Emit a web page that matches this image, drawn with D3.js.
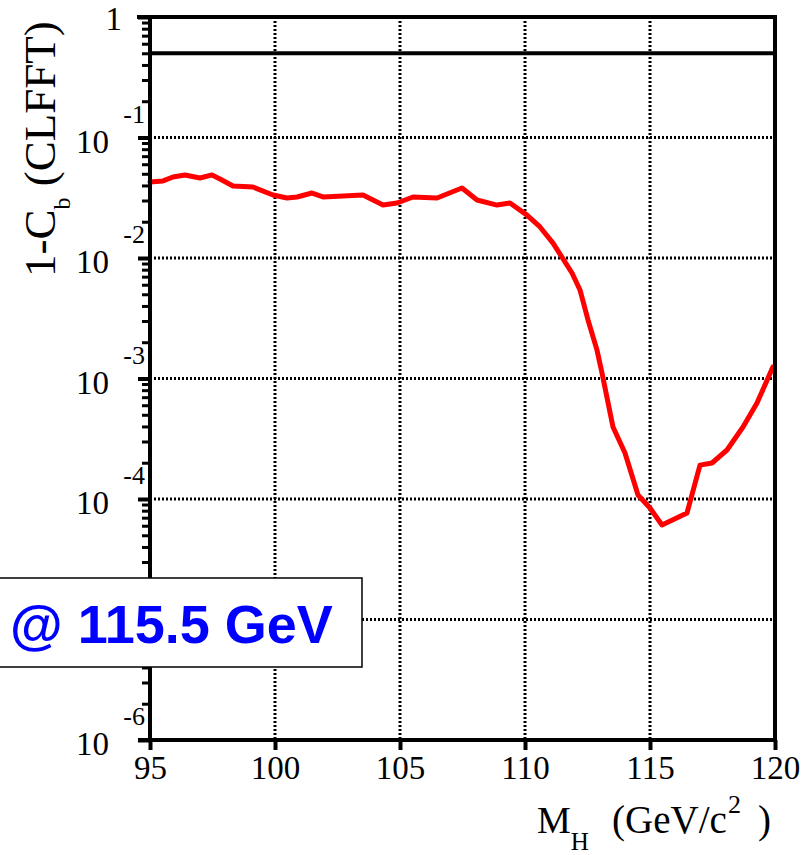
<!DOCTYPE html>
<html>
<head>
<meta charset="utf-8">
<script src="https://cdn.jsdelivr.net/npm/d3@7"></script>
<style>
  html, body { margin: 0; padding: 0; background: #fff; }
  svg { display: block; }
</style>
</head>
<body>
<svg id="chart" width="812" height="855"></svg>
<script>
// ---- data ----
const massGeV = [95.0, 95.52, 95.92, 96.4, 97.0, 97.48, 97.8, 98.32, 99.12, 99.92, 100.48, 100.88,
  101.48, 101.92, 103.52, 104.32, 104.88, 105.52, 106.48, 107.48, 108.08, 108.88, 109.4, 110.08,
  110.6, 111.12, 111.88, 112.2, 112.52, 112.88, 113.08, 113.52, 114.0, 114.52, 115.0, 115.48,
  116.48, 117.0, 117.48, 118.08, 118.72, 119.28, 119.92];
const oneMinusCb = [4.27e-2, 4.36e-2, 4.70e-2, 4.89e-2, 4.61e-2, 4.89e-2, 4.53e-2, 3.96e-2, 3.88e-2,
  3.33e-2, 3.15e-2, 3.21e-2, 3.46e-2, 3.21e-2, 3.33e-2, 2.75e-2, 2.86e-2, 3.21e-2, 3.15e-2, 3.81e-2,
  3.03e-2, 2.75e-2, 2.86e-2, 2.27e-2, 1.81e-2, 1.33e-2, 7.51e-3, 5.43e-3, 3.06e-3, 1.72e-3, 1.11e-3,
  3.96e-4, 2.41e-4, 1.08e-4, 8.42e-5, 6.08e-5, 7.65e-5, 1.91e-4, 1.99e-4, 2.55e-4, 3.96e-4, 6.26e-4,
  1.25e-3];
const xTicks = [95, 100, 105, 110, 115, 120];
const xGrid = [100, 105, 110, 115];
const yMajorExponents = [0, -1, -2, -3, -4, -5, -6];
const yLabelExponents = [0, -1, -2, -3, -4, -6]; // 10^-5 label is hidden under the box
const yGridExponents = [-1, -2, -3, -4, -5];
const referenceLevel = 0.5;
const xDomain = [95, 120];
const yDomain = [1e-6, 1];
const xTitle = { main: "M", sub: "H", rest: "(GeV/c", sup: "2", end: ")" };
const yTitle = { main: "1-C", sub: "b", rest: " (CLFFT)" };
const boxLabel = "@ 115.5 GeV";

// ---- layout ----
const L = 150, R = 775, T = 17, B = 740;
const serif = "'Liberation Serif', 'Times New Roman', 'DejaVu Serif', serif";
const svg = d3.select("#chart");

const x = d3.scaleLinear().domain(xDomain).range([L, R]);
const y = d3.scaleLog().domain(yDomain).range([B, T]);

// grid (dotted)
const grid = svg.append("g").attr("stroke", "#000").attr("stroke-width", 3)
  .attr("stroke-dasharray", "2,2").attr("fill", "none");
grid.selectAll("line.v").data(xGrid).join("line").attr("class", "v")
  .attr("x1", d => x(d)).attr("x2", d => x(d)).attr("y1", T).attr("y2", B);
grid.selectAll("line.h").data(yGridExponents).join("line").attr("class", "h")
  .attr("x1", L).attr("x2", R).attr("y1", d => y(Math.pow(10, d))).attr("y2", d => y(Math.pow(10, d)));

// curve
const line = d3.line().x(d => x(d[0])).y(d => y(d[1]));
svg.append("path")
  .datum(massGeV.map((m, i) => [m, oneMinusCb[i]]))
  .attr("d", line)
  .attr("fill", "none").attr("stroke", "#ff0000").attr("stroke-width", 5)
  .attr("stroke-linejoin", "round").attr("stroke-linecap", "round");

// reference line at 0.5
svg.append("line").attr("x1", L).attr("x2", R + 2)
  .attr("y1", y(referenceLevel)).attr("y2", y(referenceLevel))
  .attr("stroke", "#000").attr("stroke-width", 4);

// y axis ticks (major + minor) via d3 axes
const minorVals = [];
for (let e = -6; e < 0; e++) for (let k = 2; k <= 9; k++) minorVals.push(k * Math.pow(10, e));
const majorVals = yMajorExponents.map(e => Math.pow(10, e));

const yMinor = svg.append("g").attr("transform", `translate(${L},0)`)
  .call(d3.axisLeft(y).tickValues(minorVals).tickSize(8).tickFormat(""));
yMinor.select(".domain").remove();
yMinor.selectAll(".tick line").attr("stroke", "#000").attr("stroke-width", 3);

const yMajor = svg.append("g").attr("transform", `translate(${L},0)`)
  .call(d3.axisLeft(y).tickValues(majorVals).tickSize(12).tickFormat(""));
yMajor.select(".domain").remove();
yMajor.selectAll(".tick line").attr("stroke", "#000").attr("stroke-width", 4);

// y labels
const yl = svg.append("g").attr("font-family", serif).attr("fill", "#000");
yLabelExponents.forEach(e => {
  const py = y(Math.pow(10, e));
  if (e === 0) {
    yl.append("text").attr("x", 122).attr("y", py + 13).attr("text-anchor", "end")
      .attr("font-size", 33).text("1");
  } else {
    yl.append("text").attr("x", 109).attr("y", py + 15).attr("text-anchor", "end")
      .attr("font-size", 33).text("10");
    yl.append("text").attr("x", 145).attr("y", py - 15).attr("text-anchor", "end")
      .attr("font-size", 26).text(String(e));
  }
});

// x axis ticks
const xAxis = svg.append("g").attr("transform", `translate(0,${B})`)
  .call(d3.axisBottom(x).tickValues(xTicks).tickSize(10).tickPadding(6).tickFormat(d3.format("d")));
xAxis.select(".domain").remove();
xAxis.selectAll(".tick line").attr("stroke", "#000").attr("stroke-width", 4);
xAxis.selectAll(".tick text").attr("font-family", serif).attr("font-size", 33).attr("fill", "#000");

// frame
const frame = svg.append("g").attr("stroke", "#000").attr("stroke-width", 4).attr("fill", "none");
frame.append("line").attr("x1", 137).attr("x2", R + 2).attr("y1", T).attr("y2", T);
frame.append("line").attr("x1", R).attr("x2", R).attr("y1", T).attr("y2", B + 2);
frame.append("line").attr("x1", 138).attr("x2", R + 2).attr("y1", B).attr("y2", B);
frame.append("line").attr("x1", L).attr("x2", L).attr("y1", T - 2).attr("y2", B + 2);

// x title
const xt = svg.append("text").attr("font-family", serif).attr("fill", "#000").attr("y", 833);
xt.append("tspan").attr("x", 537).attr("font-size", 38).text(xTitle.main);
xt.append("tspan").attr("font-size", 25).attr("dy", 17).text(xTitle.sub);
xt.append("tspan").attr("x", 612).attr("dy", -17).attr("font-size", 39).text(xTitle.rest);
xt.append("tspan").attr("x", 728).attr("dy", -20).attr("font-size", 26).text(xTitle.sup);
xt.append("tspan").attr("x", 758).attr("dy", 20).attr("font-size", 39).text(xTitle.end);

// y title
const yt = svg.append("text").attr("font-family", serif).attr("fill", "#000")
  .attr("transform", "translate(55,277) rotate(-90)");
yt.append("tspan").attr("font-size", 45).text(yTitle.main);
yt.append("tspan").attr("font-size", 24).attr("dy", 15).text(yTitle.sub);
yt.append("tspan").attr("font-size", 45).attr("dy", -15).text(yTitle.rest);

// label box
svg.append("rect").attr("x", -5).attr("y", 578).attr("width", 367).attr("height", 89)
  .attr("fill", "#fff").attr("stroke", "#000").attr("stroke-width", 1.5);
svg.append("text").attr("x", 10).attr("y", 643)
  .attr("font-family", "'Liberation Sans', Arial, Helvetica, sans-serif")
  .attr("font-weight", "bold").attr("font-size", 54).attr("fill", "#0000ff")
  .text(boxLabel);
</script>
</body>
</html>
